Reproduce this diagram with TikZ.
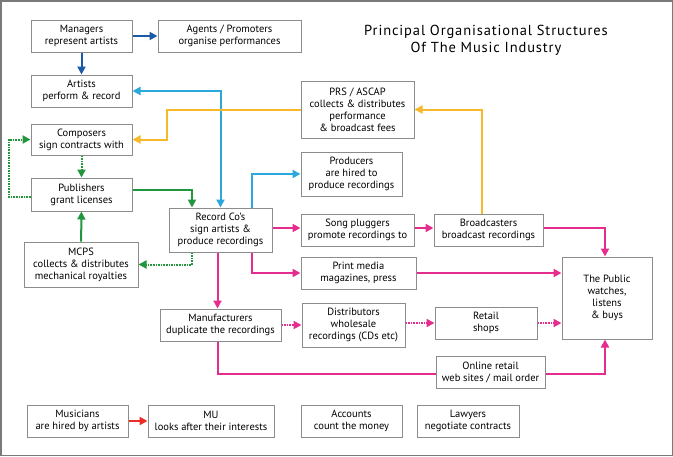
\documentclass[tikz,border=0pt]{standalone}
\usepackage{fontspec}
\setmainfont{PT Sans}
\usepackage{tikz}
\usetikzlibrary{positioning}
\usetikzlibrary{arrows.meta}

\definecolor{boxgray}{HTML}{8C8C8C}
\definecolor{framegray}{HTML}{7A7A7A}
\definecolor{mgrblue}{HTML}{1B5AA6}
\definecolor{recblue}{HTML}{2BA8DC}
\definecolor{feeyellow}{HTML}{F7B92B}
\definecolor{pubgreen}{HTML}{21963C}
\definecolor{salepink}{HTML}{E52D8F}
\definecolor{unionred}{HTML}{EE2B24}

\begin{document}
\begin{tikzpicture}[x=1pt,y=-1pt,
    box/.style={draw=boxgray,line width=1pt,fill=white,align=center,
                inner sep=0pt,font=\fontsize{10.5}{12}\selectfont},
    flow/.style={line width=2pt,-{Triangle[length=8pt,width=8pt]}},
    dots/.style={dash pattern=on 1.6pt off 1pt}]
        % \draw[help lines] (0,0) grid (673,456);
      \useasboundingbox (0,0) rectangle (673,456);
      \draw[framegray,line width=1.5pt] (0.75,0.75) rectangle (672.25,455.25);

      \node[align=center,font=\fontsize{14.5}{17}\selectfont\addfontfeature{LetterSpace=6}] (title) at (486,40)
            {Principal Organisational Structures\\Of The Music Industry};

      \node[box,minimum width=101,minimum height=32] (managers)      at (81.5,36)  {Managers\\represent artists};
      \node[box,minimum width=143,minimum height=32] (agents)        at (229.5,36) {Agents / Promoters\\organise performances};
      \node[box,minimum width=101,minimum height=32] (artists)       at (81.5,91)  {Artists\\perform \& record};
      \node[box,minimum width=101,minimum height=31] (composers)     at (81.5,139.5) {Composers\\sign contracts with};
      \node[box,minimum width=101,minimum height=33] (publishers)    at (81.5,194.5) {Publishers\\grant licenses};
      \node[box,minimum width=114,minimum height=45] (mcps)          at (81,264.5) {MCPS\\collects \& distributes\\mechanical royalties};
      \node[box,minimum width=103,minimum height=44] (recordco)      at (220.5,230) {Record Co's\\sign artists \&\\produce recordings};
      \node[box,minimum width=113,minimum height=57] (prs)           at (357.5,109.5) {PRS / ASCAP\\collects \& distributes\\performance\\\& broadcast fees};
      \node[box,minimum width=101,minimum height=44] (producers)     at (351.5,174) {Producers\\are hired to\\produce recordings};
      \node[box,minimum width=113,minimum height=32] (pluggers)      at (357.5,230) {Song pluggers\\promote recordings to};
      \node[box,minimum width=115,minimum height=32] (print)         at (358.5,273) {Print media\\magazines, press};
      \node[box,minimum width=109,minimum height=32] (broadcasters)  at (488.5,230) {Broadcasters\\broadcast recordings};
      \node[box,minimum width=90,minimum height=82]  (public)        at (607,298)  {The Public\\watches,\\listens\\\& buys};
      \node[box,minimum width=121,minimum height=32] (manufacturers) at (220.5,325) {Manufacturers\\duplicate the recordings};
      \node[box,minimum width=103,minimum height=44] (distributors)  at (353.5,325) {Distributors\\wholesale\\recordings (CDs etc)};
      \node[box,minimum width=102,minimum height=32] (retail)        at (486,323)  {Retail\\shops};
      \node[box,minimum width=109,minimum height=32] (online)        at (490.5,372) {Online retail\\web sites / mail order};
      \node[box,minimum width=101,minimum height=32] (musicians)     at (77.5,421) {Musicians\\are hired by artists};
      \node[box,minimum width=126,minimum height=32] (mu)            at (211,421)  {MU\\looks after their interests};
      \node[box,minimum width=101,minimum height=32] (accounts)      at (351.5,421) {Accounts\\count the money};
      \node[box,minimum width=102,minimum height=32] (lawyers)       at (468,421)  {Lawyers\\negotiate contracts};

      % managers
      \draw[flow,mgrblue] (managers) -- (agents);
      \draw[flow,mgrblue] (managers) -- (artists);

      % record company
      \draw[flow,recblue,{Triangle[length=8pt,width=8pt]}-{Triangle[length=8pt,width=8pt]}]
            (artists.east) -| (recordco.north);
      \draw[flow,recblue] ([xshift=31pt]recordco.north) |- (producers.west);

      % performance fees
      \draw[flow,feeyellow] ([xshift=-7pt]broadcasters.north) |- (prs.east);
      \draw[flow,feeyellow] (prs.west) -- ++(-134,0) |- (composers.east);

      % publishing
      \draw[flow,pubgreen,dots] (composers) -- (publishers);
      \draw[flow,pubgreen,dots] ([yshift=-2pt]publishers.west) -- ++(-22,0) |- (composers.west);
      \draw[flow,pubgreen] ([yshift=5pt]publishers.east) -| ([xshift=-28.5pt]recordco.north);
      \draw[flow,pubgreen] (mcps) -- (publishers);
      \draw[flow,pubgreen,dots] ([xshift=-28.5pt]recordco.south) |- (mcps.east);

      % recordings to the public
      \draw[flow,salepink] ([yshift=2pt]recordco.east) -- ([yshift=2pt]pluggers.west);
      \draw[flow,salepink] ([xshift=31pt]recordco.south) |- (print.west);
      \draw[flow,salepink] ([yshift=2pt]pluggers.east) -- ([yshift=2pt]broadcasters.west);
      \draw[flow,salepink] ([yshift=2pt]broadcasters.east) -| ([xshift=-2pt]public.north);
      \draw[flow,salepink] (print.east) -- (print.east -| public.west);
      \draw[flow,salepink] ([xshift=-3pt]recordco.south) -- ([xshift=-3pt]manufacturers.north);
      \draw[flow,salepink,dots] (manufacturers.east) -- (manufacturers.east -| distributors.west);
      \draw[flow,salepink,dots] (retail.west -| distributors.east) -- (retail.west);
      \draw[flow,salepink,dots] (retail.east) -- (retail.east -| public.west);
      \draw[salepink,line width=2pt] ([xshift=-3pt]manufacturers.south) |- ([yshift=-2pt]online.west);
      \draw[flow,salepink] ([yshift=-2pt]online.east) -| ([xshift=-2pt]public.south);

      % musicians
      \draw[flow,unionred] (musicians) -- (mu);
\end{tikzpicture}
\end{document}
